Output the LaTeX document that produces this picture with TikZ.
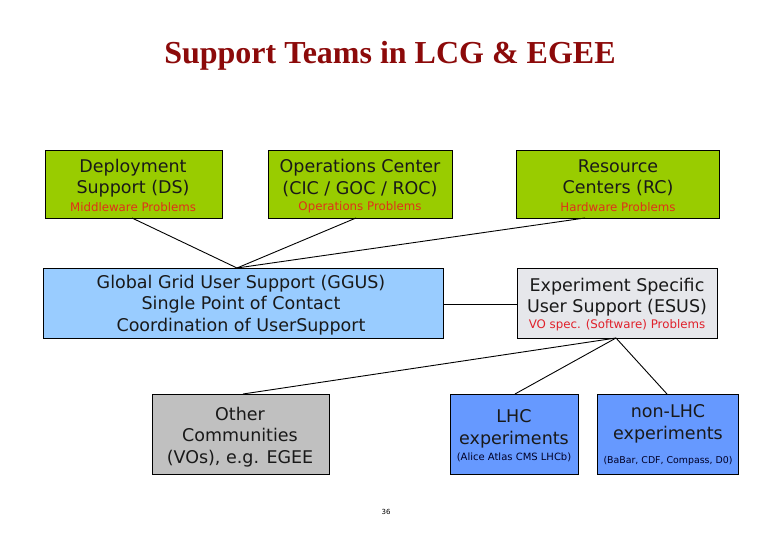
\documentclass[tikz,border=0pt]{standalone}
\usepackage{fontspec}
\setmainfont{DejaVu Sans}
\newfontfamily\titlefont{Liberation Serif}
\definecolor{boxgreen}{HTML}{99CC00}
\definecolor{ggusblue}{HTML}{99CCFF}
\definecolor{esusgray}{HTML}{E6E7EB}
\definecolor{othergray}{HTML}{C0C0C0}
\definecolor{expblue}{HTML}{6699FF}
\definecolor{titlered}{HTML}{8C0A0A}
\definecolor{probred}{HTML}{E0301A}
\definecolor{vored}{HTML}{E0202A}
\begin{document}
\begin{tikzpicture}[x=1pt,y=-1pt,
  box/.style={draw=black, line width=0.8pt, rectangle, inner sep=0pt},
  main/.style={font=\fontsize{17.5}{21.5}\selectfont, align=center, inner sep=0pt, text=black!90},
  prob/.style={font=\fontsize{11.8}{13}\selectfont, inner sep=0pt},
  tiny/.style={font=\fontsize{10}{11}\selectfont, inner sep=0pt, text=black!85!blue},
  conn/.style={draw=black, line width=0.9pt}]
\useasboundingbox (0,0) rectangle (780,540);
\fill[white] (0,0) rectangle (780,540);

\node[inner sep=0pt, text=titlered, font=\titlefont\bfseries\fontsize{32}{38}\selectfont] (title) at (390,56) {Support Teams in LCG \& EGEE};

% boxes
\path[box, fill=boxgreen] (45,150) rectangle (222,218);
\coordinate (dsB) at (132,218);
\path[box, fill=boxgreen] (268,150) rectangle (452,218);
\coordinate (opB) at (356,218);
\path[box, fill=boxgreen] (516,150) rectangle (719,218);
\coordinate (rcB) at (585,218);
\path[box, fill=ggusblue] (43,268) rectangle (443,338);
\coordinate (ggT) at (237,268);
\coordinate (ggR) at (443,304);
\path[box, fill=esusgray] (517,268) rectangle (717,338);
\coordinate (esL) at (517,304);
\coordinate (esB) at (616,338);
\path[box, fill=othergray] (152,394) rectangle (329,474);
\coordinate (otT) at (243,394);
\path[box, fill=expblue] (450,394) rectangle (578,474);
\coordinate (lhT) at (515,394);
\path[box, fill=expblue] (597,394) rectangle (738,474);
\coordinate (nlT) at (667,394);

% texts
\node[main] (ds1) at (133,178) {Deployment\\Support (DS)};
\node[prob, text=probred] (ds2) at (133,207) {Middleware Problems};
\node[main] (op1) at (360,178) {Operations Center\\(CIC / GOC / ROC)};
\node[prob, text=probred] (op2) at (360,207) {Operations Problems};
\node[main] (rc1) at (618,178) {Resource\\Centers (RC)};
\node[prob, text=probred] (rc2) at (618,207) {Hardware Problems};
\node[main] (gg) at (241,305) {Global Grid User Support (GGUS)\\Single Point of Contact\\Coordination of UserSupport};
\node[main] (es1) at (617,297) {Experiment Specific\\User Support (ESUS)};
\node[prob, text=vored] (es2) at (617,325) {VO spec. (Software) Problems};
\node[main] (ot) at (240,437) {Other\\Communities\\(VOs), e.g. EGEE};
\node[main] (lh1) at (514,429) {LHC\\experiments};
\node[tiny] (lh2) at (514,457) {(Alice Atlas CMS LHCb)};
\node[main] (nl1) at (668,424) {non-LHC\\experiments};
\node[tiny, font=\fontsize{9.4}{11}\selectfont] (nl2) at (668,461) {(BaBar, CDF, Compass, D0)};
\node[font=\fontsize{7}{8}\selectfont, inner sep=0pt] (pg) at (386,512) {36};

% connectors
\draw[conn] (dsB) -- (ggT);
\draw[conn] (opB) -- (ggT);
\draw[conn] (rcB) -- (ggT);
\draw[conn] (ggR) -- (esL);
\draw[conn] (esB) -- (otT);
\draw[conn] (esB) -- (lhT);
\draw[conn] (esB) -- (nlT);
\end{tikzpicture}
\end{document}
